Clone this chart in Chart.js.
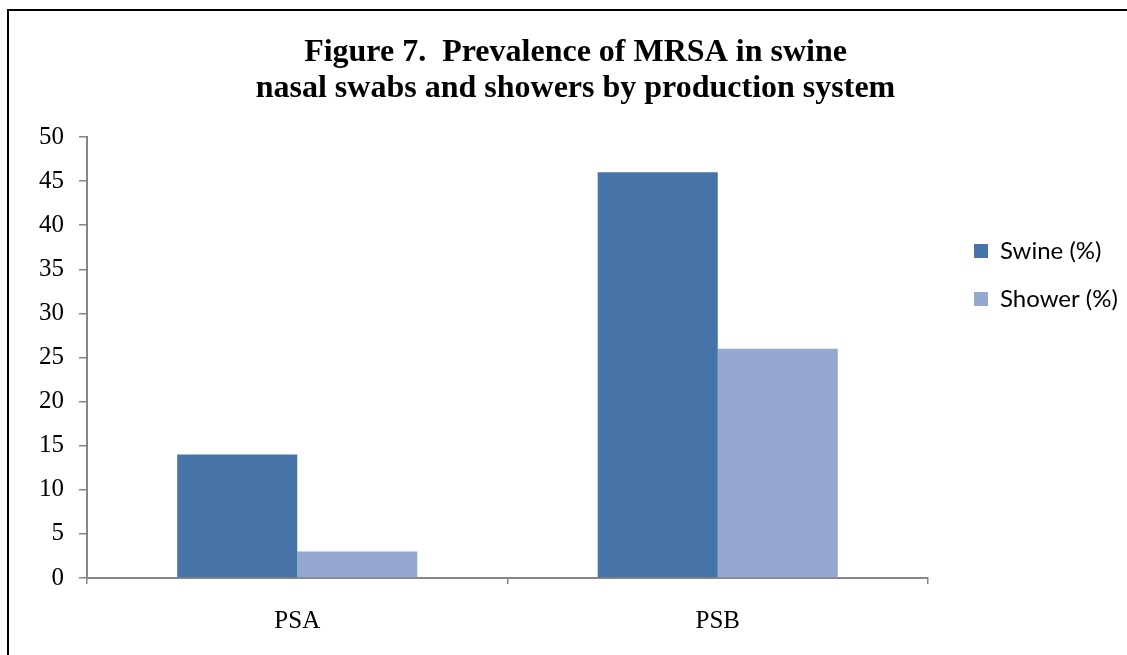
<!DOCTYPE html>
<html>
<head>
<meta charset="utf-8">
<script src="https://cdn.jsdelivr.net/npm/chart.js@4"></script>
<style>
  body { margin: 0; background: #fff; }
  #wrap { position: relative; width: 1127px; height: 655px; }
  #frame { position: absolute; left: 7px; top: 9px; width: 1200px; height: 700px;
           border-top: 2px solid #000; border-left: 2px solid #000; pointer-events: none; }
</style>
</head>
<body>
<div id="wrap">
  <canvas id="grafico"></canvas>
  <div id="frame"></div>
</div>
<script>
// datos
const categorias = ['PSA', 'PSB'];
const swine = [14, 46];
const shower = [3, 26];
const titulo = ['Figure 7.  Prevalence of MRSA in swine', 'nasal swabs and showers by production system'];
const yMin = 0, yMax = 50, yPaso = 5;

const gris = '#868686';
const serif = 'Liberation Serif, Times New Roman, serif';

new Chart(document.getElementById('grafico'), {
    type: 'bar',
    data: {
        labels: categorias,
        datasets: [
            { label: 'Swine (%)', data: swine, backgroundColor: '#4673a8' },
            { label: 'Shower (%)', data: shower, backgroundColor: '#95a9d0' }
        ]
    },
    options: {
        responsive: true,
        maintainAspectRatio: false,
        animation: false,
        categoryPercentage: 0.571,
        barPercentage: 1,
        layout: { padding: { left: 24, top: 0, right: 0, bottom: 0 } },
        plugins: {
            tooltip: { enabled: false },
            title: {
                display: true,
                text: titulo,
                color: '#000',
                font: { family: serif, size: 32, weight: 'bold', lineHeight: '36px' },
                padding: { top: 35, bottom: 30 }
            },
            legend: {
                position: 'right',
                align: 'start',
                fullSize: false,
                maxWidth: 177,
                title: { display: true, text: ' ', font: { size: 10, lineHeight: 1 }, padding: { top: 68, bottom: 0 } },
                labels: {
                    boxWidth: 14, boxHeight: 14, padding: 24, color: '#000',
                    font: { family: 'Lato', size: 24 }
                }
            }
        },
        scales: {
            x: {
                grid: { display: true, drawOnChartArea: false, drawTicks: true, tickLength: 6, color: gris, lineWidth: 1.5 },
                border: { display: true, color: gris, width: 2 },
                ticks: { color: '#000', font: { family: serif, size: 25 }, padding: 22 },
                afterFit: s => { s.height = 77; }
            },
            y: {
                min: yMin, max: yMax,
                grid: { display: true, drawOnChartArea: false, drawTicks: true, tickLength: 8, color: gris, lineWidth: 1.5 },
                border: { display: true, color: gris, width: 2 },
                ticks: { stepSize: yPaso, color: '#000', font: { family: serif, size: 25 }, padding: 15 },
                afterFit: s => { s.width = 63; }
            },
            hueco: {
                position: 'right',
                display: true,
                grid: { display: false },
                border: { display: false },
                ticks: { display: false },
                afterFit: s => { s.width = 22; }
            }
        }
    }
});
</script>
</body>
</html>
